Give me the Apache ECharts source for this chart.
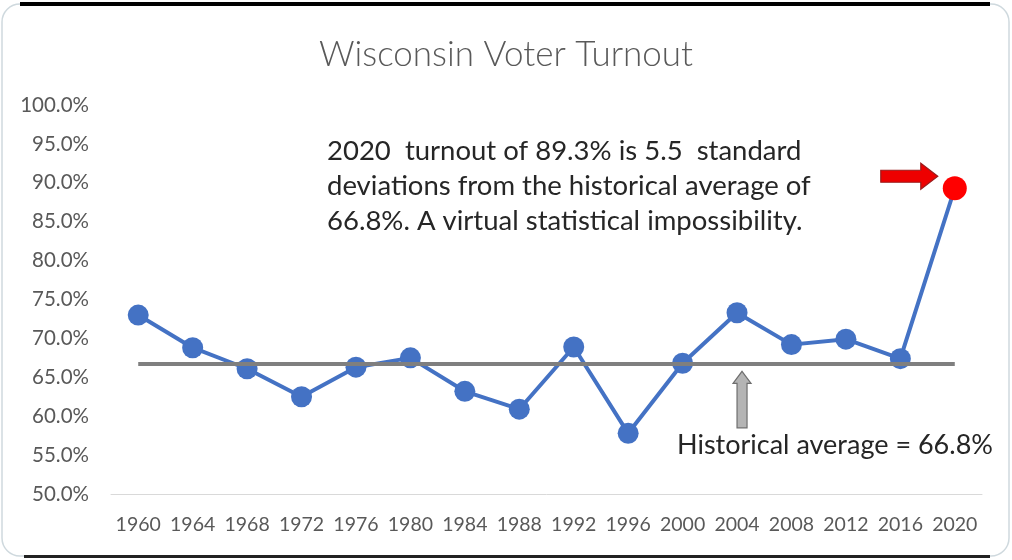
<!DOCTYPE html>
<html>
<head>
<meta charset="utf-8">
<title>Wisconsin Voter Turnout</title>
<script src="https://cdn.jsdelivr.net/npm/echarts@6/dist/echarts.min.js"></script>
<style>
  html, body { margin: 0; padding: 0; background: #fff; }
  #main { width: 1012px; height: 560px; }
</style>
</head>
<body>
<div id="main"></div>
<script>
// data
var years = ['1960', '1964', '1968', '1972', '1976', '1980', '1984', '1988',
             '1992', '1996', '2000', '2004', '2008', '2012', '2016', '2020'];
var turnout = [73.0, 68.8, 66.1, 62.5, 66.3, 67.5, 63.2, 60.9,
               68.9, 57.8, 66.8, 73.3, 69.2, 69.9, 67.4, 89.3];
var historicalAvg = 66.8;
var yTicks = { min: 50, max: 100, step: 5 };
var noteLines = [
    '2020  turnout of 89.3% is 5.5  standard',
    'deviations from the historical average of',
    '66.8%. A virtual statistical impossibility.'
];
var avgLabel = 'Historical average = 66.8%';

var myChart = echarts.init(document.getElementById('main'));

var textFont = 'Lato, "Open Sans", sans-serif';

// last point drawn red
var seriesData = turnout.map(function (v, i) {
    if (i === turnout.length - 1) {
        return { value: v, symbolSize: 24, itemStyle: { color: '#ff0000' } };
    }
    return v;
});

var option = {
    animation: false,
    backgroundColor: '#ffffff',
    title: {
        text: 'Wisconsin Voter Turnout',
        left: 'center',
        top: 32,
        textStyle: { fontFamily: textFont, fontWeight: 300, fontSize: 35, color: '#595959' }
    },
    grid: { left: 111, right: 30, top: 105, bottom: 66 },
    xAxis: {
        type: 'category',
        data: years,
        boundaryGap: true,
        axisLine: { lineStyle: { color: '#d9d9d9', width: 1 } },
        axisTick: { show: false },
        axisLabel: { color: '#595959', fontSize: 19.5, fontFamily: textFont, margin: 21,
                     interval: 0, hideOverlap: false }
    },
    yAxis: {
        type: 'value',
        min: yTicks.min,
        max: yTicks.max,
        interval: yTicks.step,
        axisLine: { show: false },
        axisTick: { show: false },
        splitLine: { show: false },
        axisLabel: {
            color: '#595959', fontSize: 20.5, fontFamily: textFont, margin: 22,
            formatter: function (v) { return v.toFixed(1) + '%'; }
        }
    },
    series: [{
        type: 'line',
        data: seriesData,
        symbol: 'circle',
        symbolSize: 21,
        z: 3,
        lineStyle: { color: '#4472c4', width: 4 },
        itemStyle: { color: '#4472c4' },
        markLine: {
            silent: true,
            symbol: 'none',
            label: { show: false },
            z: 4,
            lineStyle: { color: '#7f7f7f', width: 4, type: 'solid' },
            data: [[
                { coord: [years[0], historicalAvg] },
                { coord: [years[years.length - 1], historicalAvg] }
            ]]
        }
    }]
};
myChart.setOption(option);

// annotations placed from the chart's own scales
var p2020 = myChart.convertToPixel({ seriesIndex: 0 }, [years.length - 1, turnout[turnout.length - 1]]);
var pAvg = myChart.convertToPixel({ seriesIndex: 0 }, [11, historicalAvg]);
var pLow = myChart.convertToPixel({ seriesIndex: 0 }, [11, 58.5]);

var ax = p2020[0] - 17, ay = p2020[1] - 12;   // red arrow tip
var gx = pAvg[0] + 5, gy = pAvg[1] + 8;       // grey arrow tip

var graphics = [
    // card frame
    { type: 'rect', shape: { x: 2, y: 4, width: 1007, height: 552, r: 18 },
      style: { fill: 'none', stroke: '#cfd9de', lineWidth: 1.5 }, silent: true },
    { type: 'rect', shape: { x: 20, y: 2, width: 970, height: 4 }, style: { fill: '#000' }, silent: true },
    { type: 'rect', shape: { x: 24, y: 555, width: 966, height: 3 }, style: { fill: '#222' }, silent: true },
    // red arrow
    { type: 'polygon', z: 10,
      shape: { points: [[ax - 57, ay - 6], [ax - 17, ay - 6], [ax - 17, ay - 13], [ax, ay], [ax - 17, ay + 13], [ax - 17, ay + 6], [ax - 57, ay + 6]] },
      style: { fill: '#ee0000', stroke: '#9b1c1c', lineWidth: 1.2 } },
    // grey arrow
    { type: 'polygon', z: 10,
      shape: { points: [[gx, gy], [gx + 9, gy + 12], [gx + 5, gy + 12], [gx + 5, pLow[1]], [gx - 5, pLow[1]], [gx - 5, gy + 12], [gx - 9, gy + 12]] },
      style: { fill: '#b4b4b4', stroke: '#6e6e6e', lineWidth: 1.2 } },
    { type: 'text', z: 10,
      style: { x: 677, y: 445, text: avgLabel, font: '27px ' + textFont, fill: '#262626', verticalAlign: 'middle' } }
];
noteLines.forEach(function (line, i) {
    graphics.push({ type: 'text', z: 10,
        style: { x: 327, y: 151 + i * 35, text: line, font: '27.5px ' + textFont, fill: '#262626', verticalAlign: 'middle' } });
});
myChart.setOption({ graphic: graphics });
</script>
</body>
</html>
